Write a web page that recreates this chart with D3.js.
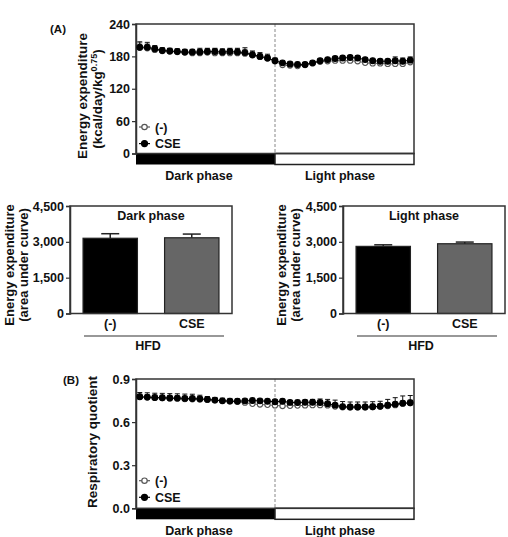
<!DOCTYPE html>
<html>
<head>
<meta charset="utf-8">
<script src="https://cdn.jsdelivr.net/npm/d3@7"></script>
<style>
  body { margin: 0; background: #fff; }
  text { font-family: "Liberation Sans", Arial, sans-serif; font-weight: bold; fill: #111; }
</style>
</head>
<body>
<svg id="fig" width="508" height="537"></svg>
<script>
// ---- data ----
const groups = ["(-)", "CSE"];

// (A) energy expenditure time course, 37 points, dark phase first
const eeNeg = [196, 195, 192, 190, 189, 188, 187, 186, 186, 187, 186, 186, 186, 186, 185, 182, 179, 176, 171,
               164, 163, 162, 164, 167, 170, 171, 172, 172, 172, 171, 168, 167, 167, 166, 166, 166, 169];
const eeNegErr = [9, 8, 6, 5, 5, 5, 5, 6, 7, 7, 8, 7, 7, 8, 8, 6, 6, 5, 4,
                  3, 3, 3, 3, 3, 3, 3, 3, 3, 3, 3, 3, 3, 3, 3, 4, 5, 4];
const eeCse = [197, 197, 194, 191, 190, 189, 188, 188, 188, 189, 189, 188, 189, 188, 187, 183, 180, 177, 172,
               168, 166, 165, 165, 168, 172, 174, 176, 177, 178, 177, 174, 172, 171, 171, 172, 171, 173];
const eeCseErr = [10, 9, 6, 5, 5, 5, 5, 5, 7, 6, 6, 6, 6, 7, 9, 7, 7, 7, 5,
                  3, 3, 3, 3, 3, 3, 3, 3, 3, 3, 3, 3, 3, 3, 3, 7, 6, 6];

// (B) respiratory quotient time course
const rqNeg = [0.775, 0.771, 0.768, 0.767, 0.765, 0.763, 0.760, 0.759, 0.757, 0.755, 0.752, 0.748, 0.745, 0.742, 0.735, 0.727, 0.722, 0.720, 0.716,
               0.712, 0.713, 0.715, 0.716, 0.718, 0.718, 0.716, 0.708, 0.703, 0.703, 0.703, 0.703, 0.705, 0.708, 0.712, 0.718, 0.727, 0.733];
const rqNegErr = [0.02, 0.02, 0.02, 0.02, 0.02, 0.02, 0.02, 0.02, 0.02, 0.02, 0.02, 0.02, 0.02, 0.02, 0.02, 0.02, 0.02, 0.02, 0.02,
                  0.02, 0.02, 0.02, 0.02, 0.02, 0.02, 0.02, 0.02, 0.02, 0.02, 0.02, 0.02, 0.02, 0.02, 0.02, 0.02, 0.02, 0.02];
const rqCse = [0.776, 0.774, 0.771, 0.770, 0.768, 0.767, 0.765, 0.764, 0.762, 0.758, 0.753, 0.748, 0.746, 0.745, 0.748, 0.750, 0.748, 0.745, 0.742,
               0.745, 0.737, 0.736, 0.738, 0.738, 0.736, 0.728, 0.718, 0.708, 0.705, 0.705, 0.705, 0.707, 0.710, 0.718, 0.725, 0.732, 0.735];
const rqCseErr = [0.03, 0.03, 0.03, 0.03, 0.03, 0.03, 0.03, 0.03, 0.025, 0.02, 0.015, 0.01, 0.01, 0.01, 0.01, 0.01, 0.01, 0.01, 0.01,
                  0.01, 0.01, 0.015, 0.015, 0.02, 0.025, 0.03, 0.035, 0.035, 0.035, 0.035, 0.035, 0.035, 0.035, 0.04, 0.045, 0.05, 0.05];

// area under curve bars
const aucDark = [3150, 3170];
const aucDarkErr = [190, 155];
const aucLight = [2810, 2920];
const aucLightErr = [65, 70];

const eeTicks = [0, 60, 120, 180, 240];
const rqTicks = [0, 0.3, 0.6, 0.9];
const aucTicks = [0, 1500, 3000, 4500];
const phases = ["Dark phase", "Light phase"];

const svg = d3.select("#fig");

// ---- time course panel ----
function timeCourse(o) {
  const n = o.neg.length;
  const x = d3.scaleLinear().domain([-0.5, n - 0.5]).range([136, 414]);
  const y = d3.scaleLinear().domain([0, o.ymax]).range([o.bottom, o.top]);
  const g = svg.append("g");
  const split = 18;

  // dashed phase divider
  g.append("line")
    .attr("x1", x(split)).attr("x2", x(split))
    .attr("y1", o.top).attr("y2", o.bottom)
    .attr("stroke", "#888").attr("stroke-width", 1).attr("stroke-dasharray", "3,2");

  // phase bar under the plot
  g.append("rect").attr("x", x(-0.5)).attr("y", o.bottom).attr("width", x(split) - x(-0.5)).attr("height", 11)
    .attr("fill", "#000");
  g.append("rect").attr("x", x(split)).attr("y", o.bottom).attr("width", x(n - 0.5) - x(split)).attr("height", 11)
    .attr("fill", "#fff").attr("stroke", "#222").attr("stroke-width", 1.5);

  // frame
  g.append("rect").attr("x", x(-0.5)).attr("y", o.top).attr("width", x(n - 0.5) - x(-0.5)).attr("height", o.bottom - o.top)
    .attr("fill", "none").attr("stroke", "#333").attr("stroke-width", 1.5);

  // y axis
  const ax = g.append("g").attr("transform", `translate(${x(-0.5)},0)`)
    .call(d3.axisLeft(y).tickValues(o.ticks).tickFormat(o.fmt).tickSize(4).tickPadding(2));
  ax.select(".domain").attr("stroke", "#333").attr("stroke-width", 1.5);
  ax.selectAll(".tick line").attr("stroke", "#333").attr("stroke-width", 1.2);
  ax.selectAll("text").style("font-size", "12.5px").style("font-family", "Liberation Sans, Arial, sans-serif")
    .style("font-weight", "bold").attr("fill", "#111");

  // series
  const series = [
    { v: o.neg, e: o.negErr, open: true },
    { v: o.cse, e: o.cseErr, open: false }
  ];
  const idx = d3.range(n);
  series.forEach(s => {
    const eg = g.append("g").attr("stroke", s.open ? "#666" : "#111").attr("stroke-width", 1);
    idx.forEach(i => {
      const top = y(s.v[i] + s.e[i]);
      eg.append("line").attr("x1", x(i)).attr("x2", x(i)).attr("y1", y(s.v[i])).attr("y2", top);
      eg.append("line").attr("x1", x(i) - 2.5).attr("x2", x(i) + 2.5).attr("y1", top).attr("y2", top);
    });
  });
  series.forEach(s => {
    g.append("path").datum(idx)
      .attr("fill", "none").attr("stroke", s.open ? "#555" : "#000").attr("stroke-width", 1)
      .attr("d", d3.line().x(i => x(i)).y(i => y(s.v[i])));
    g.append("g").selectAll("circle").data(idx).join("circle")
      .attr("cx", i => x(i)).attr("cy", i => y(s.v[i])).attr("r", s.open ? 2.6 : 2.9)
      .attr("fill", s.open ? "#fff" : "#000")
      .attr("stroke", s.open ? "#555" : "#000").attr("stroke-width", 1.1);
  });

  // legend
  groups.forEach((name, k) => {
    const ly = o.legendY + k * 16.6;
    g.append("line").attr("x1", 139).attr("x2", 150).attr("y1", ly).attr("y2", ly)
      .attr("stroke", k ? "#000" : "#555").attr("stroke-width", 1.2);
    g.append("circle").attr("cx", 144.5).attr("cy", ly).attr("r", k ? 3 : 2.7)
      .attr("fill", k ? "#000" : "#fff").attr("stroke", k ? "#000" : "#555").attr("stroke-width", 1.2);
    g.append("text").attr("x", 155).attr("y", ly + 4.5).style("font-size", "12.5px").text(name);
  });

  // phase labels
  g.append("text").attr("x", 199).attr("y", o.bottom + 26.5).attr("text-anchor", "middle")
    .style("font-size", "12.5px").text(phases[0]);
  g.append("text").attr("x", 340).attr("y", o.bottom + 26.5).attr("text-anchor", "middle")
    .style("font-size", "12.5px").text(phases[1]);

  // panel letter
  g.append("text").attr("x", o.letterX).attr("y", o.letterY).style("font-size", "11.5px").text(o.letter);
  return g;
}

const gA = timeCourse({
  top: 24, bottom: 153.5, ymax: 240, ticks: eeTicks, fmt: d3.format("d"),
  neg: eeNeg, negErr: eeNegErr, cse: eeCse, cseErr: eeCseErr,
  legendY: 127, letter: "(A)", letterX: 50, letterY: 33
});
const tA = gA.append("text").attr("transform", "translate(87,96) rotate(-90)").attr("text-anchor", "middle")
  .style("font-size", "13.5px");
tA.text("Energy expenditure");
const tA2 = gA.append("text").attr("transform", "translate(102,99) rotate(-90)").attr("text-anchor", "middle")
  .style("font-size", "13.5px");
tA2.append("tspan").text("(kcal/day/kg");
tA2.append("tspan").attr("dy", -5).style("font-size", "9px").text("0.75");
tA2.append("tspan").attr("dy", 5).text(")");

const gB = timeCourse({
  top: 379, bottom: 508.3, ymax: 0.9, ticks: rqTicks, fmt: d3.format(".1f"),
  neg: rqNeg, negErr: rqNegErr, cse: rqCse, cseErr: rqCseErr,
  legendY: 480.7, letter: "(B)", letterX: 63, letterY: 384
});
gB.append("text").attr("transform", "translate(97,442) rotate(-90)").attr("text-anchor", "middle")
  .style("font-size", "13.5px").text("Respiratory quotient");

// ---- bar chart panel ----
function aucBars(o) {
  const g = svg.append("g");
  const x = d3.scaleBand().domain(groups).range([o.left, o.left + 162]).paddingInner(0.333).paddingOuter(0.16);
  const y = d3.scaleLinear().domain([0, 4500]).range([313.5, 206]);

  g.selectAll("rect.bar").data(groups).join("rect").attr("class", "bar")
    .attr("x", d => x(d)).attr("width", x.bandwidth())
    .attr("y", (d, i) => y(o.values[i])).attr("height", (d, i) => y(0) - y(o.values[i]))
    .attr("fill", (d, i) => i ? "#666" : "#000").attr("stroke", "#222").attr("stroke-width", 1.2);

  groups.forEach((d, i) => {
    const cx = x(d) + x.bandwidth() / 2;
    const top = y(o.values[i] + o.errs[i]);
    g.append("line").attr("x1", cx).attr("x2", cx).attr("y1", y(o.values[i])).attr("y2", top)
      .attr("stroke", "#222").attr("stroke-width", 1.5);
    g.append("line").attr("x1", cx - 9).attr("x2", cx + 9).attr("y1", top).attr("y2", top)
      .attr("stroke", "#222").attr("stroke-width", 1.5);
    g.append("text").attr("x", cx).attr("y", 328).attr("text-anchor", "middle").style("font-size", "12.5px").text(d);
  });

  g.append("rect").attr("x", o.left).attr("y", 206).attr("width", 162).attr("height", 107.5)
    .attr("fill", "none").attr("stroke", "#333").attr("stroke-width", 1.5);

  const ax = g.append("g").attr("transform", `translate(${o.left},0)`)
    .call(d3.axisLeft(y).tickValues(aucTicks).tickFormat(d3.format(",")).tickSize(4).tickPadding(2));
  ax.select(".domain").attr("stroke", "#333").attr("stroke-width", 1.5);
  ax.selectAll(".tick line").attr("stroke", "#333").attr("stroke-width", 1.2);
  ax.selectAll("text").style("font-size", "12.5px").style("font-family", "Liberation Sans, Arial, sans-serif")
    .style("font-weight", "bold").attr("fill", "#111");

  g.append("text").attr("x", o.left + 81).attr("y", 220).attr("text-anchor", "middle")
    .style("font-size", "12.5px").text(o.phase);

  // HFD group line
  g.append("line").attr("x1", o.left + 14).attr("x2", o.left + 154).attr("y1", 336).attr("y2", 336)
    .attr("stroke", "#333").attr("stroke-width", 1.2);
  g.append("text").attr("x", o.left + 78).attr("y", 349.5).attr("text-anchor", "middle")
    .style("font-size", "12.5px").text("HFD");

  g.append("text").attr("transform", `translate(${o.titleX},265) rotate(-90)`).attr("text-anchor", "middle")
    .style("font-size", "13px").text("Energy expenditure");
  g.append("text").attr("transform", `translate(${o.titleX + 14},265) rotate(-90)`).attr("text-anchor", "middle")
    .style("font-size", "13px").text("(area under curve)");
}

aucBars({ left: 70, values: aucDark, errs: aucDarkErr, phase: phases[0], titleX: 14 });
aucBars({ left: 343, values: aucLight, errs: aucLightErr, phase: phases[1], titleX: 286 });
</script>
</body>
</html>
